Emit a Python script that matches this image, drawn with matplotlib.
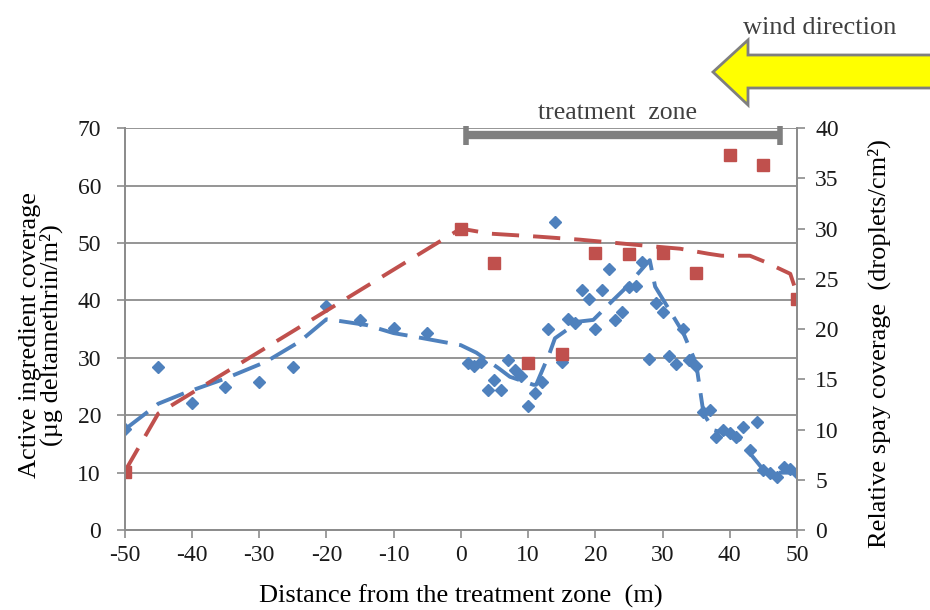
import numpy as np
import matplotlib.pyplot as plt
from matplotlib.patches import Polygon

plt.rcParams['font.family'] = ['Liberation Serif', 'DejaVu Serif']
plt.rcParams['axes.unicode_minus'] = False

# Active ingredient (left axis), points
dist_ai = [-50, -45, -40, -35, -30, -25, -20, -15, -10, -5,
           1, 2, 3, 4, 5, 6, 7, 8, 9, 10,
           11, 12, 13, 14, 15, 16, 17, 18, 19, 20,
           21, 22, 23, 24, 25, 26, 27, 28, 29, 30,
           31, 32, 33, 34, 35, 36, 37, 38, 39, 40,
           41, 42, 43, 44, 45, 46, 47, 48, 49, 50]
ai_cov = [17.6, 28.4, 22.1, 24.9, 25.8, 28.4, 39.0, 36.6, 35.2, 34.3,
          29.1, 28.5, 29.3, 24.4, 26.1, 24.4, 29.7, 27.9, 26.9, 21.6,
          23.8, 25.8, 35.0, 53.6, 29.2, 36.7, 36.0, 41.8, 40.2, 35.0,
          41.8, 45.5, 36.6, 37.9, 42.3, 42.5, 46.7, 29.8, 39.6, 37.9,
          30.4, 29.0, 35.0, 29.6, 28.5, 20.5, 20.9, 16.2, 17.5, 16.9,
          16.2, 18.0, 13.9, 18.8, 10.5, 9.9, 9.3, 11.0, 10.6, 9.9]

# Active ingredient trend line
ai_trend_x = [-50, -45, -41, -35, -29, -24, -20, -18.5, -14, -10, -7, 0,
              2.3, 5.6, 7.3, 10.8, 11.2, 13.2, 14, 17.5, 19.7, 22.7,
              24.2, 28.1, 28.9, 30.1, 33.1, 35.0, 36.1, 37.6, 41.1, 42,
              45, 47, 50]
ai_trend_y = [17.5, 22.0, 23.9, 26.4, 29.3, 32.8, 36.7, 36.5, 35.7, 34.3, 33.7, 32.2,
              30.9, 28.2, 26.7, 25.3, 25.3, 30.8, 33.4, 36.3, 36.6, 40.1,
              41.8, 47.0, 42.4, 40.1, 34.3, 29.0, 20.3, 17.4, 16.3, 14.8,
              10.5, 10.0, 10.0]

# Relative spray coverage (right axis), points
dist_spray = [-50, 0, 5, 10, 15, 20, 25, 30, 35, 40, 45, 50]
spray_cov = [5.8, 30.0, 26.6, 16.6, 17.5, 27.6, 27.5, 27.6, 25.6, 37.3, 36.3, 23.0]

# Spray trend line
spray_trend_x = [-50, -45, 0, 4.3, 11.5, 17.7, 24.2, 29.1, 32.6, 36.8, 38.8, 43, 45.2, 49, 50]
spray_trend_y = [5.8, 11.6, 30.0, 29.5, 29.2, 28.9, 28.5, 28.2, 28.0, 27.5, 27.3, 27.3, 26.7, 25.5, 23.5]

blue = '#4F81BD'
red = '#C0504D'
grid_c = '#8C8C8C'

fig = plt.figure(figsize=(9.3, 6.1), dpi=100)
ax = fig.add_axes([0.134, 0.131, 0.723, 0.659])
ax2 = ax.twinx()

ax.set_xlim(-50, 50)
ax.set_ylim(0, 70)
ax2.set_ylim(0, 40)
ax.set_xticks(np.arange(-50, 51, 10))
ax.set_yticks(np.arange(0, 71, 10))
ax2.set_yticks(np.arange(0, 41, 5))

ax.grid(axis='y', color=grid_c, lw=1.3)
ax.set_axisbelow(True)
for a in (ax, ax2):
    for s in a.spines.values():
        s.set_color(grid_c)
        s.set_linewidth(1.3)
    a.spines['top'].set_visible(False)
    a.tick_params(colors=grid_c, labelcolor='#1a1a1a', labelsize=17, length=6, width=1.2)
ax.tick_params(axis='x', pad=5)
ax.tick_params(axis='y', pad=11)
ax2.tick_params(axis='y', pad=7)

ax.plot(ai_trend_x, ai_trend_y, color=blue, lw=2.8, dashes=(7.5, 3))
ax.plot(dist_ai, ai_cov, 'D', color=blue, ms=6.5, mec=blue)
ax2.plot(spray_trend_x, spray_trend_y, color=red, lw=2.8, dashes=(7, 3.6))
ax2.plot(dist_spray, spray_cov, 's', color=red, ms=9, mec=red)

ax.set_xlabel('Distance from the treatment zone  (m)', fontsize=19, labelpad=13)
ax.set_ylabel('Active ingredient coverage\n(µg deltamethrin/m²)', fontsize=19,
              labelpad=10, linespacing=0.95)
ax2.set_ylabel('Relative spay coverage  (droplets/cm²)', fontsize=19, labelpad=21)
ax.yaxis.label.set_y(0.485)
ax2.yaxis.label.set_y(0.465)

# treatment zone bar
ax.plot([0.8, 47.5], [68.8, 68.8], color='#7F7F7F', lw=6, clip_on=False, solid_capstyle='butt')
ax.vlines([0.8, 47.5], 67.1, 70.3, color='#7F7F7F', lw=4, clip_on=False)
ax.text(23.3, 71.6, 'treatment  zone', ha='center', va='baseline', fontsize=18.5, color='#404040')

# wind arrow (figure pixels -> fractions)
W, H = 930.0, 610.0
pts = [(713, 72), (748, 40), (748, 55), (935, 55), (935, 88), (748, 88), (748, 105)]
poly = Polygon([(x / W, 1 - y / H) for x, y in pts], closed=True, transform=fig.transFigure,
               facecolor='#FFFF00', edgecolor='#7F7F7F', lw=2, clip_on=False)
fig.add_artist(poly)
fig.text(820 / W, 1 - 28 / H, 'wind direction', ha='center', va='center', fontsize=19, color='#404040')

fig.savefig('out.png', dpi=100)
